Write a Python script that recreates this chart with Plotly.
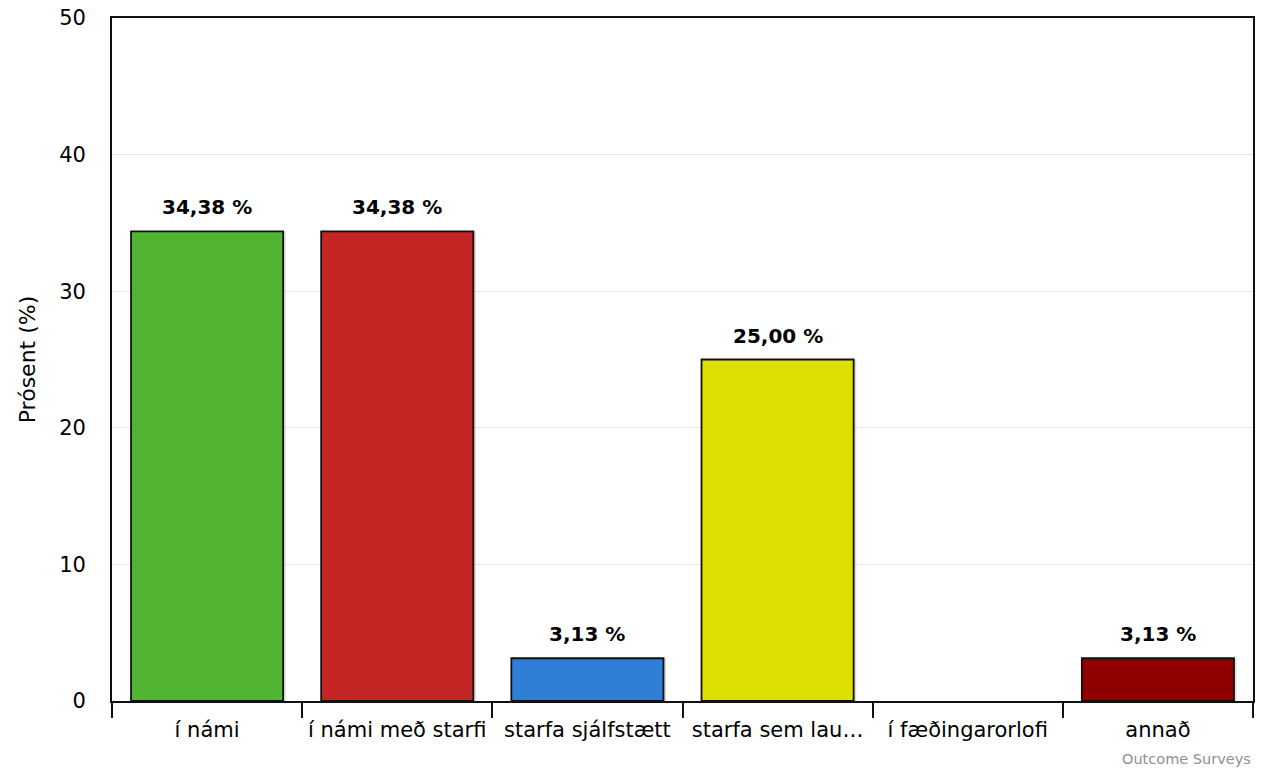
import plotly.graph_objects as go

categories = ["í námi", "í námi með starfi", "starfa sjálfstætt", "starfa sem lau…", "í fæðingarorlofi", "annað"]
values = [34.38, 34.38, 3.13, 25.00, 0.0, 3.13]
labels = ["34,38 %", "34,38 %", "3,13 %", "25,00 %", "", "3,13 %"]
colors = ["#50B432", "#C42525", "#2F7ED8", "#DDDF00", "#ED561B", "#910000"]
y_ticks = [0, 10, 20, 30, 40, 50]

FONT = "DejaVu Sans"
W, H = 1261, 771
BAR_W = 0.8

fig = go.Figure()
# soft shadow behind the bars
fig.add_trace(go.Bar(
    x=categories, y=values, width=BAR_W, offset=-BAR_W / 2 + 0.014,
    marker=dict(color="rgba(0,0,0,0.13)", line=dict(width=0)),
    hoverinfo="skip",
))
fig.add_trace(go.Bar(
    x=categories, y=values, width=BAR_W, offset=-BAR_W / 2,
    marker=dict(color=colors,
                line=dict(color="#111111", width=[1.8 if v > 0 else 0 for v in values])),
    hoverinfo="x+y",
))

for c, v, t in zip(categories, values, labels):
    if t:
        fig.add_annotation(x=c, y=v, text="<b>" + t + "</b>", showarrow=False,
                           yanchor="bottom", yshift=10,
                           font=dict(family=FONT, size=20, color="#000000"))

fig.add_annotation(xref="paper", yref="paper", x=1, y=0, xanchor="right", yanchor="top",
                   yshift=-48, text="Outcome Surveys", showarrow=False,
                   font=dict(family=FONT, size=14.5, color="#909090"))

fig.update_layout(
    width=W, height=H,
    margin=dict(l=112, r=8, t=18, b=70),
    paper_bgcolor="white", plot_bgcolor="white",
    barmode="overlay",
    showlegend=False,
    font=dict(family=FONT, size=21, color="#000000"),
)
fig.update_xaxes(
    type="category", tickson="boundaries", ticks="outside", ticklen=15, tickwidth=1.5,
    tickcolor="#111111", showline=True, linecolor="#111111", linewidth=1.8, mirror=True,
    showgrid=False, ticklabelstandoff=9, automargin=False,
    tickfont=dict(family=FONT, size=21, color="#000000"),
)
fig.update_yaxes(
    range=[0, 50], tickvals=y_ticks, ticks="", showline=True, linecolor="#111111",
    linewidth=1.8, mirror=True, showgrid=True, gridcolor="#e6e6e6", zeroline=False,
    ticklabelstandoff=20, ticklabeloverflow="allow", automargin="left",
    tickfont=dict(family=FONT, size=21, color="#000000"),
    title=dict(text="Prósent (%)", font=dict(family=FONT, size=22, color="#000000"), standoff=17),
)

fig.write_html("out.html", config={"displayModeBar": False},
               post_script="document.body.style.margin='0';document.body.style.overflow='hidden';")
